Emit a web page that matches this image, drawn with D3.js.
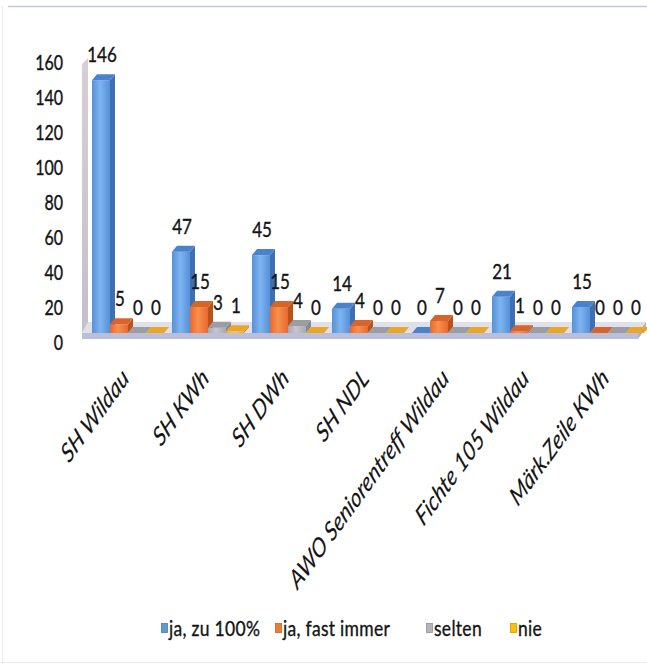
<!DOCTYPE html>
<html>
<head>
<meta charset="utf-8">
<script src="https://cdn.jsdelivr.net/npm/d3@7"></script>
<style>
  body { margin: 0; background: #fff; }
  svg { display: block; }
  text { font-family: Lato, "Open Sans", sans-serif; fill: #141414; stroke: #141414; stroke-width: 0.3; }
  text.cat { stroke-width: 0.1; }
</style>
</head>
<body>
<svg id="chart" width="647" height="664"></svg>
<script>
// Survey answers per location
const categories = ["SH Wildau", "SH KWh", "SH DWh", "SH NDL", "AWO Seniorentreff Wildau", "Fichte 105 Wildau", "Märk.Zeile KWh"];
const seriesNames = ["ja, zu 100%", "ja, fast immer", "selten", "nie"];
const jaZu100     = [146, 47, 45, 14, 0, 21, 15];
const jaFastImmer = [5, 15, 15, 4, 7, 1, 0];
const selten      = [0, 3, 4, 0, 0, 0, 0];
const nie         = [0, 1, 0, 0, 0, 0, 0];
const yTicks = [0, 20, 40, 60, 80, 100, 120, 140, 160];

const seriesValues = [jaZu100, jaFastImmer, selten, nie];

// face shades per series: front (edge, centre), side, top
const palette = [
  { front: ["#5690d8", "#7db4ef"], side: "#3c6fb3", top: "#4a83cb", key: "#5b9bd5" },
  { front: ["#e8692c", "#f7904f"], side: "#b9531b", top: "#d9642a", key: "#ed7d31" },
  { front: ["#a8a8b0", "#c6c6ce"], side: "#88888f", top: "#9c9ca4", key: "#b4b4bc" },
  { front: ["#f2ac2c", "#fcc65a"], side: "#c98d17", top: "#eaa628", key: "#ffc000" }
];

const svg = d3.select("#chart");
const W = 647, H = 664;

// frame
svg.append("rect").attr("x", 0).attr("y", 0).attr("width", W).attr("height", H).attr("fill", "#fff");
svg.append("line").attr("x1", 8).attr("x2", W).attr("y1", 6.5).attr("y2", 6.5)
  .attr("stroke", "#c5c6e6").attr("stroke-width", 1.5);
svg.append("line").attr("x1", 2.5).attr("x2", 2.5).attr("y1", 6).attr("y2", H)
  .attr("stroke", "#ececef").attr("stroke-width", 1);
svg.append("line").attr("x1", 0).attr("x2", W).attr("y1", 662.5).attr("y2", 662.5)
  .attr("stroke", "#ececef").attr("stroke-width", 1);

const defs = svg.append("defs");
palette.forEach((p, i) => {
  const g = defs.append("linearGradient").attr("id", "front" + i)
    .attr("x1", "0%").attr("x2", "100%").attr("y1", "0%").attr("y2", "0%");
  g.append("stop").attr("offset", "0%").attr("stop-color", p.front[0]);
  g.append("stop").attr("offset", "45%").attr("stop-color", p.front[1]);
  g.append("stop").attr("offset", "100%").attr("stop-color", p.front[0]);
});
const wallGrad = defs.append("linearGradient").attr("id", "wall")
  .attr("x1", "0%").attr("x2", "0%").attr("y1", "0%").attr("y2", "100%");
wallGrad.append("stop").attr("offset", "0%").attr("stop-color", "#d8cfd4");
wallGrad.append("stop").attr("offset", "100%").attr("stop-color", "#c3c0cc");

// scales
const yAxis = d3.scaleLinear().domain([0, 160]).range([342, 62]);
const base = 333;
const yBar = d3.scaleLinear().domain([0, 160]).range([base, base - 277]);
const x0 = d3.scaleBand().domain(categories).range([88, 648]).padding(0);
const x1 = d3.scaleBand().domain(d3.range(seriesNames.length)).range([4, 76]).padding(0);
const dx = 5, dy = 6;

// vertically stretched text helper
function label(g, x, y, txt, size, sy, opts = {}) {
  const t = g.append("text")
    .attr("transform", `translate(${x},${y}) scale(1,${sy})` + (opts.rotate ? ` rotate(${opts.rotate})` : ""))
    .attr("font-size", size)
    .attr("text-anchor", opts.anchor || "start")
    .text(txt);
  if (opts.italic) t.attr("font-style", "italic");
  if (opts.baseline) t.attr("dominant-baseline", opts.baseline);
  if (opts.cls) t.attr("class", opts.cls);
  if (opts.spacing) t.attr("letter-spacing", opts.spacing);
  return t;
}

// side wall and floor
svg.append("polygon")
  .attr("points", [[82, 64], [88, 58], [88, 323], [82, 333]].join(" "))
  .attr("fill", "url(#wall)");
svg.append("polygon")
  .attr("points", [[82, 333], [638, 333], [646, 322], [88, 322]].join(" "))
  .attr("fill", "#dfe0ea");
svg.append("polygon")
  .attr("points", [[82, 333], [638, 333], [638, 339], [82, 339]].join(" "))
  .attr("fill", "#bdbfd8");
svg.append("polygon")
  .attr("points", [[638, 333], [646, 322], [646, 328], [638, 339]].join(" "))
  .attr("fill", "#aeb1cc");

// y axis tick labels
const axisG = svg.append("g");
yTicks.forEach(v => {
  label(axisG, 63, yAxis(v), String(v), 16, 1.33, { anchor: "end", baseline: "central" });
});

// bars
const barsG = svg.append("g");
categories.forEach((cat, ci) => {
  seriesValues.forEach((vals, si) => {
    const v = vals[ci];
    const p = palette[si];
    const x = x0(cat) + x1(si);
    const w = x1.bandwidth();
    const y = yBar(v);
    const g = barsG.append("g");
    if (base - y > 0) {
      g.append("rect").attr("x", x).attr("y", y).attr("width", w).attr("height", base - y)
        .attr("fill", `url(#front${si})`);
      g.append("polygon")
        .attr("points", [[x + w, y], [x + w + dx, y - dy], [x + w + dx, base - dy], [x + w, base]].join(" "))
        .attr("fill", p.side);
    }
    g.append("polygon")
      .attr("points", [[x, y], [x + dx, y - dy], [x + w + dx, y - dy], [x + w, y]].join(" "))
      .attr("fill", p.top);
  });
});

// value labels
const valG = svg.append("g");
categories.forEach((cat, ci) => {
  seriesValues.forEach((vals, si) => {
    const v = vals[ci];
    const x = x0(cat) + x1(si) + x1.bandwidth() / 2 + 1;
    label(valG, x, yBar(v) - 18, String(v), 17, 1.2, { anchor: "middle" });
  });
});

// category labels
const catG = svg.append("g");
categories.forEach(cat => {
  const cx = x0(cat) + x0.bandwidth() / 2;
  label(catG, cx + 2, 380, cat, 19.5, 1.38, { anchor: "end", rotate: -45, italic: true, cls: "cat" });
});

// legend entries at fixed slots along the bottom row
const legendX = [161, 275, 426, 510];
const legG = svg.append("g");
seriesNames.forEach((name, i) => {
  const lx = legendX[i];
  legG.append("rect").attr("x", lx + 0.5).attr("y", 623.5).attr("width", 6).attr("height", 9)
    .attr("fill", palette[i].key).attr("stroke", d3.color(palette[i].key).darker(0.6)).attr("stroke-width", 0.8);
  label(legG, lx + 8, 636, name, 17.5, 1.2, { spacing: 0.3 });
});
</script>
</body>
</html>
